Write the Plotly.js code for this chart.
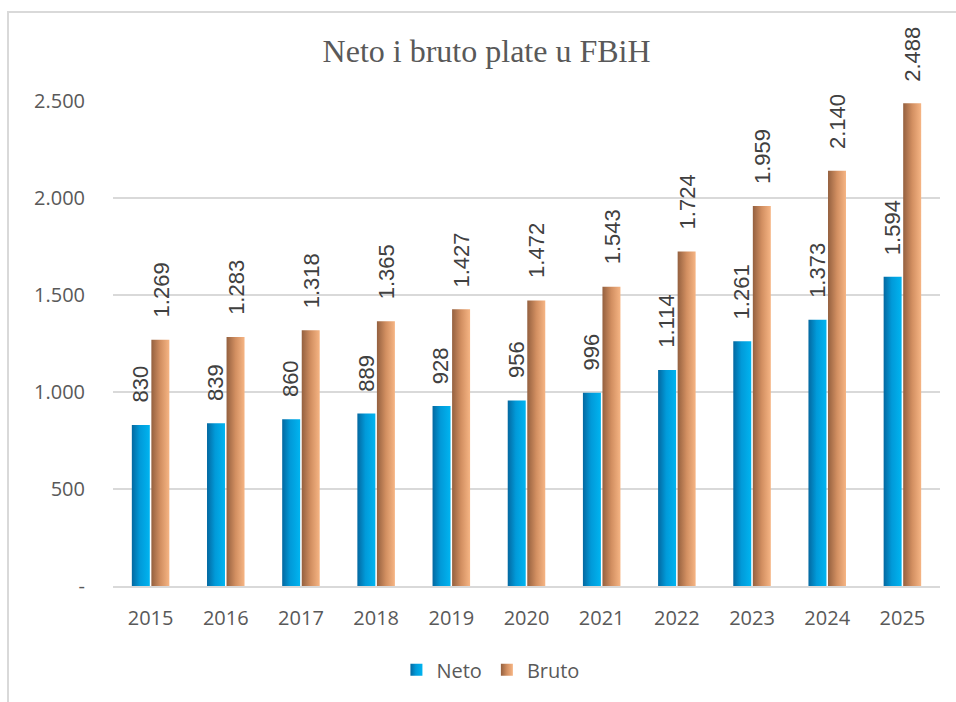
<!DOCTYPE html>
<html>
<head>
<meta charset="utf-8">
<script src="https://cdn.plot.ly/plotly-3.0.1.min.js"></script>
<style>
  html, body { margin: 0; padding: 0; background: #ffffff; }
  #chart { width: 956px; height: 702px; }
  #frame { position: absolute; left: 7px; top: 11px; width: 1100px; height: 900px;
           border-left: 2px solid #d9d9d9; border-top: 2px solid #d9d9d9; pointer-events: none; }
</style>
</head>
<body>
<div id="chart"></div>
<div id="frame"></div>
<script>
const years = ['2015','2016','2017','2018','2019','2020','2021','2022','2023','2024','2025'];
const neto  = [830, 839, 860, 889, 928, 956, 996, 1114, 1261, 1373, 1594];
const bruto = [1269, 1283, 1318, 1365, 1427, 1472, 1543, 1724, 1959, 2140, 2488];
const yTickVals = [0, 500, 1000, 1500, 2000, 2500];
const yTickText = ['-', '500', '1.000', '1.500', '2.000', '2.500'];
const chartTitle = 'Neto i bruto plate u FBiH';
const seriesNames = ['Neto', 'Bruto'];

const fmt = v => String(v).replace(/\B(?=(\d{3})+(?!\d))/g, '.');
const sans = 'Open Sans, Lato, sans-serif';
const labelFont = 'Liberation Sans, Arial, sans-serif';

const traces = [
  { type: 'bar', name: seriesNames[0], x: years, y: neto, marker: { color: '#0596d6' }, hoverinfo: 'none' },
  { type: 'bar', name: seriesNames[1], x: years, y: bruto, marker: { color: '#cf8c5e' }, hoverinfo: 'none' }
];

const annotations = [];
[[neto, -10.5], [bruto, 10.5]].forEach(([arr, dx]) => {
  arr.forEach((v, i) => {
    annotations.push({
      x: i, y: v, xref: 'x', yref: 'y', text: fmt(v), textangle: -90,
      showarrow: false, xanchor: 'center', yanchor: 'bottom', xshift: dx, yshift: 20,
      font: { family: labelFont, size: 22, color: '#404040' }
    });
  });
});

const layout = {
  width: 956, height: 702,
  margin: { l: 113, r: 16, t: 101, b: 116 },
  paper_bgcolor: '#ffffff', plot_bgcolor: '#ffffff',
  barmode: 'group', bargap: 0.48, bargroupgap: 0.08,
  title: { text: chartTitle, xref: 'container', yref: 'container', x: 0.509, y: 0.927,
           xanchor: 'center', yanchor: 'middle',
           font: { family: 'Liberation Serif, Times New Roman, serif', size: 32, color: '#595959' } },
  xaxis: { type: 'category', range: [-0.5, years.length - 0.5], showgrid: false, showline: true,
           linecolor: '#d9d9d9', linewidth: 2,
           ticks: '', ticklabelstandoff: 13, tickfont: { family: sans, size: 20, color: '#595959' } },
  yaxis: { range: [0, 2500], tickvals: yTickVals, ticktext: yTickText, showgrid: true,
           gridcolor: '#d9d9d9', gridwidth: 1.5, zeroline: false, showline: false, ticks: '',
           ticklabelstandoff: 27, tickfont: { family: sans, size: 20, color: '#595959' } },
  legend: { orientation: 'h', xref: 'container', yref: 'container', x: 0.513, y: 0.046,
            xanchor: 'center', yanchor: 'middle', font: { family: sans, size: 20, color: '#595959' },
            itemwidth: 30 },
  annotations: annotations,
  showlegend: true
};

Plotly.newPlot('chart', traces, layout, { staticPlot: true, displayModeBar: false }).then(gd => {
  const svg = gd.querySelector('svg.main-svg');
  const ns = 'http://www.w3.org/2000/svg';
  let defs = svg.querySelector('defs');
  if (!defs) { defs = document.createElementNS(ns, 'defs'); svg.insertBefore(defs, svg.firstChild); }
  const grads = [
    { id: 'gNeto', stops: [[0, '#0468a0'], [0.45, '#019ad9'], [1, '#00b4f0']] },
    { id: 'gBruto', stops: [[0, '#94603f'], [0.5, '#d28f61'], [1, '#f6b584']] }
  ];
  grads.forEach(g => {
    const lg = document.createElementNS(ns, 'linearGradient');
    lg.setAttribute('id', g.id);
    lg.setAttribute('x1', '0'); lg.setAttribute('x2', '1');
    lg.setAttribute('y1', '0'); lg.setAttribute('y2', '0');
    g.stops.forEach(([o, c]) => {
      const s = document.createElementNS(ns, 'stop');
      s.setAttribute('offset', o); s.setAttribute('stop-color', c);
      lg.appendChild(s);
    });
    defs.appendChild(lg);
  });
  const barTraces = gd.querySelectorAll('.barlayer .trace.bars');
  barTraces.forEach((t, i) => {
    t.querySelectorAll('path').forEach(p => { p.style.fill = 'url(#' + grads[i].id + ')'; });
  });
  gd.querySelectorAll('.legend .traces').forEach((t, i) => {
    t.querySelectorAll('.legendpoints path').forEach(p => { p.style.fill = 'url(#' + grads[i].id + ')'; });
  });
});
</script>
</body>
</html>
